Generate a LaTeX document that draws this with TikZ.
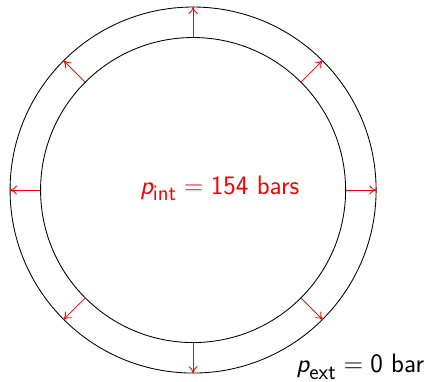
\documentclass[tikz,border=0pt]{standalone}
\usepackage{amsmath}
\usepackage{tikz}
\usetikzlibrary{arrows.meta, positioning}
\newcommand{\pvar}{\textsf{\itshape p}}

\begin{document}
\begin{tikzpicture}[
  wall/.style={draw, circle, inner sep=0pt, line width=0.8pt},
  tag/.style={font=\sffamily\Huge},
  push/.style={->, red, line width=0.8pt},
  >={To[length=2.4mm, width=3mm]}
]
\useasboundingbox (-6.33,-6.29) rectangle (7.57,6.23);
\node[wall, minimum size=12cm] (outer) at (0,0) {};
\node[wall, minimum size=10cm] (inner) at (0,0) {};
\foreach \a in {0,45,...,315}
  \draw[push] (inner.\a) -- (outer.\a);
\node[tag, red] (pint) at (0.87,0.05) {$\pvar_{\textsf{int}} = \textsf{154}$ bars};
\node[tag] (pext) at (5.48,-5.80) {$\pvar_{\textsf{ext}} = \textsf{0}$ bar};
\end{tikzpicture}
\end{document}
